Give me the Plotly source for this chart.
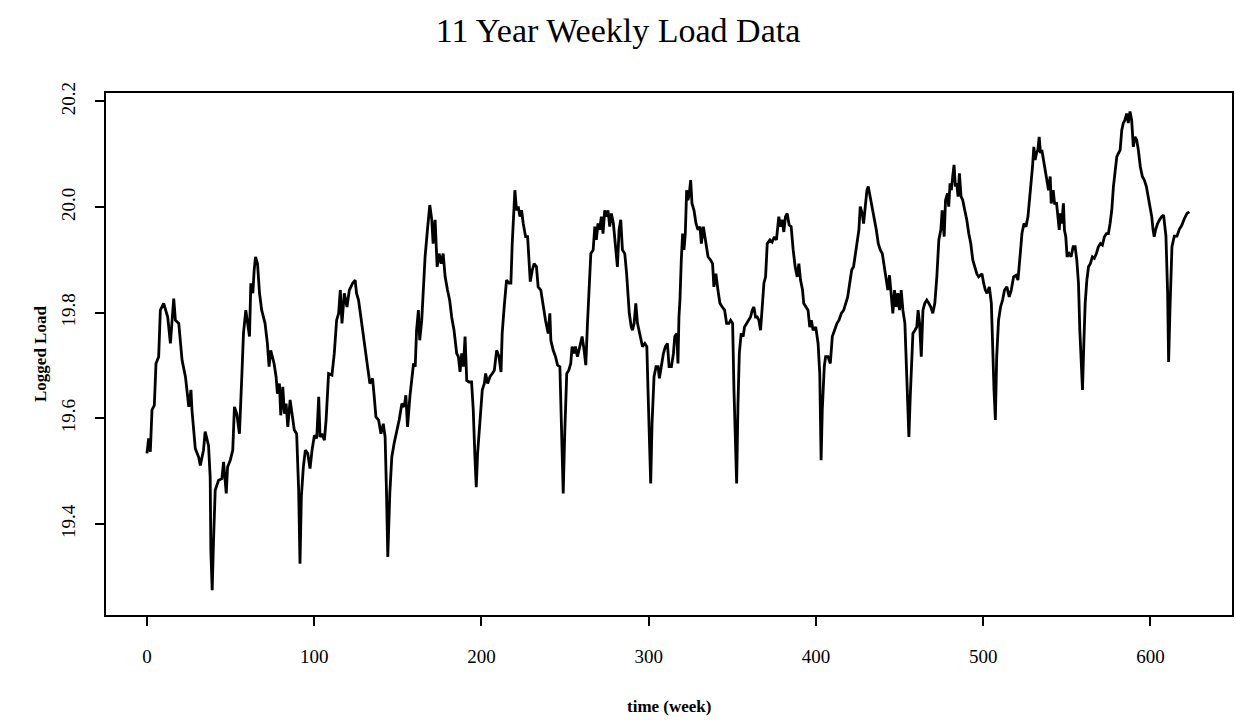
import plotly.graph_objects as go

# ---- data (week, logged load) ----
weeks = [
    0.0, 1.0, 2.0, 3.0, 4.4, 5.4, 7.0, 8.0, 10.0, 12.4, 14.0, 15.0, 16.0, 17.0, 19.0, 21.0, 23.0, 25.0,
    26.3, 26.9, 28.9, 30.9, 31.9, 33.8, 34.8, 36.8, 37.8, 38.2, 39.0, 39.8, 40.8, 42.8, 44.8, 45.8,
    47.4, 48.2, 49.8, 51.3, 52.3, 53.7, 55.3, 56.7, 57.7, 59.1, 60.1, 61.3, 62.1, 63.3, 64.1, 64.9,
    66.1, 67.3, 68.6, 70.6, 72.0, 73.0, 74.0, 76.0, 77.2, 78.0, 79.2, 80.0, 81.2,
    82.2, 83.2, 84.2, 85.6, 87.1, 88.1, 89.5, 90.7, 91.5, 92.3, 93.5, 94.7, 96.1, 97.5, 98.7, 100.1,
    101.5, 102.7, 103.5, 104.6, 106.1, 107.1, 108.6, 110.6, 112.0, 113.4, 114.6, 115.6, 116.6, 118.0,
    119.6, 121.0, 123.0, 124.5, 125.3, 126.5, 127.9, 129.3, 130.9, 131.9, 133.3, 134.9, 135.9, 136.9,
    138.5, 139.9, 141.3, 142.4, 143.2, 144.0, 145.2, 146.4, 147.8, 149.2, 150.8, 152.4, 153.8, 154.8,
    155.8, 157.2, 158.4, 159.4, 160.4, 161.2, 162.3, 163.1, 164.3, 165.1, 166.3, 167.7, 169.1, 170.3,
    171.1, 172.3, 173.5, 174.7, 175.9, 177.1, 178.3, 179.7, 181.0, 182.2, 183.6,
    185.2, 186.2, 187.2, 188.2, 189.2, 190.2, 191.2, 192.6, 194.1, 195.1, 196.1, 196.9, 197.7, 199.1,
    200.5, 201.7, 202.5, 203.7, 205.1, 206.5, 207.7, 209.1, 210.5, 211.7, 212.4, 213.6, 215.0, 216.4,
    217.6, 218.4, 219.2, 220.0, 221.0, 222.0, 223.0, 224.0, 225.0, 226.4, 227.6, 228.4, 229.2, 230.4,
    231.5, 232.9, 233.9, 235.5, 236.9, 238.3, 239.9, 240.9, 241.5, 242.9, 244.3, 245.5, 246.9, 247.9,
    248.9, 249.8, 251.0, 252.2, 253.4, 254.2, 255.4, 256.2, 257.4, 258.8, 260.2, 261.4, 262.4, 263.4,
    264.4, 265.4, 266.8, 267.8, 268.7, 269.7, 270.7, 271.7, 272.7, 273.7, 274.7, 275.7, 276.7, 277.7,
    278.9, 280.1, 281.3, 282.3, 283.3, 284.3, 285.7, 286.8, 287.6, 288.4, 289.6,
    290.3, 291.3, 292.3, 293.3, 294.9, 296.3, 297.7, 298.9, 299.6, 300.4, 301.2, 302.0, 303.2, 304.4,
    305.6, 306.4, 307.6, 308.8, 310.0, 311.2, 312.2, 313.6, 314.8, 315.6, 316.8, 317.5, 318.1, 318.7,
    319.5, 320.3, 321.1, 321.9, 322.7, 323.5, 324.3, 325.1, 325.9, 327.1, 328.3, 329.5, 330.7, 331.5,
    332.7, 334.1, 335.5, 337.0, 338.2, 339.0, 340.2, 341.4, 342.6, 344.0, 345.4, 346.6, 348.0, 349.0,
    350.2, 351.0, 351.8, 352.6, 353.4, 354.2, 355.3, 356.5, 357.3, 358.5, 359.9, 360.9, 361.9, 362.9,
    363.9, 364.9, 365.9, 366.9, 367.9, 368.9, 369.9, 370.9, 372.5, 373.8, 375.2, 376.4, 377.8, 378.8,
    379.8, 380.8, 381.8, 382.8, 384.0, 385.2, 386.4, 387.6, 388.8, 389.8, 390.8, 392.0, 392.7, 393.9,
    395.3, 396.3, 397.3, 398.3, 399.9, 401.3, 402.3, 403.1, 403.8, 405.0, 405.8, 407.2, 408.6, 409.8,
    411.2, 412.6, 413.8, 415.2, 416.6, 417.8, 419.0, 420.2, 421.4, 422.5, 423.7, 424.5, 425.7, 426.5,
    427.7, 428.5, 429.3, 430.5, 431.3, 432.5, 433.7, 434.9, 436.1, 437.3, 438.5, 439.7, 440.9, 442.1,
    443.0, 444.0, 445.0, 446.0, 447.0, 448.0, 449.0, 450.0, 451.0, 452.0, 453.2, 454.0, 454.8, 455.6,
    456.4, 457.2, 458.0, 459.2, 460.3, 461.1, 462.0, 463.0, 464.0, 465.1, 466.3, 467.5, 468.7, 469.9,
    471.1, 472.3, 473.5, 474.7, 475.5, 476.7, 477.5, 478.7, 479.4, 480.2, 481.0, 481.8, 482.6, 483.4,
    484.2, 485.0, 485.8, 486.8, 487.8, 489.0, 490.2, 491.4, 492.6, 493.8, 495.0, 496.2, 497.3, 498.5,
    499.3, 500.3, 501.3, 502.3, 503.7, 504.9, 505.7, 506.5, 507.3, 508.1, 509.2, 510.4, 511.6, 512.8,
    514.2, 515.6, 516.8, 518.2, 519.6, 520.8, 522.2, 523.2, 524.4, 525.6, 526.8, 527.7, 528.7, 529.5,
    530.3, 531.1, 531.9, 532.7, 533.5, 534.3, 535.1, 536.1, 537.1, 538.1, 539.1, 540.1, 540.7, 541.9,
    542.7, 543.9, 544.7, 545.5, 546.2, 547.0, 548.0, 548.6, 549.4, 550.2, 551.4, 552.6, 553.8, 555.0,
    556.0, 557.0, 557.8, 558.6, 559.4, 560.2, 561.0, 562.0, 563.0, 564.1, 565.3, 566.5, 567.7, 568.9,
    570.1, 571.3, 572.5, 573.7, 574.9, 575.9, 576.9, 577.9, 578.9, 579.9, 580.9, 581.9, 582.9, 583.8,
    584.8, 585.8, 586.8, 587.8, 588.8, 589.8, 590.8, 591.8, 592.8, 594.0, 595.2, 596.4, 597.6, 598.8,
    600.0, 600.8, 601.6, 602.3, 603.1, 604.3, 605.5, 606.7, 607.9, 609.3, 610.3, 610.9, 611.7, 612.9,
    614.3, 615.9, 617.3, 618.7, 620.3, 621.9, 623.3,
]

logged_load = [
    19.534, 19.562, 19.537, 19.616, 19.625, 19.704, 19.717, 19.805, 19.818, 19.792, 19.742, 19.792, 19.827, 19.786, 19.780, 19.710, 19.679, 19.622,
    19.654, 19.616, 19.543, 19.527, 19.511, 19.540, 19.575, 19.549, 19.489, 19.350, 19.275, 19.369, 19.464, 19.483, 19.486, 19.518,
    19.458, 19.508, 19.521, 19.540, 19.622, 19.609, 19.571, 19.679, 19.761, 19.805, 19.780, 19.755, 19.856, 19.837, 19.881, 19.906,
    19.893, 19.837, 19.805, 19.780, 19.742, 19.698, 19.729, 19.704, 19.679, 19.647, 19.666, 19.606, 19.660,
    19.609, 19.628, 19.584, 19.635, 19.603, 19.578, 19.571, 19.464, 19.325, 19.451, 19.508, 19.540, 19.534, 19.505, 19.540, 19.568,
    19.562, 19.641, 19.565, 19.571, 19.559, 19.597, 19.685, 19.682, 19.723, 19.786, 19.799, 19.843, 19.780, 19.837,
    19.811, 19.843, 19.856, 19.862, 19.837, 19.824, 19.792, 19.755, 19.723, 19.698, 19.666, 19.676, 19.641, 19.603,
    19.597, 19.571, 19.590, 19.565, 19.464, 19.338, 19.458, 19.527, 19.553, 19.571, 19.597, 19.628, 19.622, 19.644,
    19.584, 19.641, 19.679, 19.704, 19.698, 19.767, 19.805, 19.748, 19.786, 19.843, 19.906, 19.957, 20.004, 19.976,
    19.931, 19.976, 19.887, 19.912, 19.893, 19.912, 19.868, 19.843, 19.824, 19.792, 19.767,
    19.723, 19.717, 19.688, 19.723, 19.698, 19.755, 19.672, 19.669, 19.669, 19.616, 19.527, 19.470, 19.534, 19.603,
    19.654, 19.666, 19.685, 19.666, 19.679, 19.685, 19.691, 19.729, 19.717, 19.688, 19.761, 19.811, 19.862, 19.856,
    19.856, 19.931, 19.982, 20.032, 19.994, 20.001, 19.982, 19.994, 19.969, 19.944, 19.944, 19.893, 19.859, 19.881,
    19.893, 19.887, 19.849, 19.843, 19.811, 19.786, 19.761, 19.799, 19.748, 19.729, 19.717, 19.701, 19.698, 19.578,
    19.458, 19.571, 19.685, 19.691, 19.704, 19.736, 19.723, 19.736, 19.717, 19.736, 19.755, 19.729, 19.701, 19.780,
    19.837, 19.912, 19.919, 19.963, 19.938, 19.969, 19.957, 19.982, 19.950, 19.994, 19.982, 19.994, 19.963, 19.988,
    19.969, 19.919, 19.887, 19.957, 19.976, 19.919, 19.912, 19.874, 19.830, 19.799, 19.773,
    19.767, 19.780, 19.818, 19.780, 19.755, 19.736, 19.742, 19.736, 19.654, 19.553, 19.477, 19.590, 19.679, 19.698,
    19.698, 19.676, 19.704, 19.723, 19.736, 19.742, 19.698, 19.698, 19.723, 19.755, 19.761, 19.704, 19.792, 19.824,
    19.900, 19.950, 19.919, 19.950, 20.032, 20.013, 20.026, 20.051, 20.007, 19.994, 19.969, 19.957, 19.963, 19.931,
    19.963, 19.931, 19.906, 19.900, 19.893, 19.849, 19.874, 19.843, 19.818, 19.811, 19.805, 19.780, 19.780, 19.786,
    19.780, 19.654, 19.553, 19.477, 19.628, 19.723, 19.761, 19.755, 19.773, 19.780, 19.786, 19.792, 19.805, 19.811,
    19.792, 19.792, 19.786, 19.767, 19.811, 19.856, 19.868, 19.931, 19.938, 19.934, 19.944, 19.938, 19.982, 19.963,
    19.976, 19.953, 19.982, 19.988, 19.966, 19.963, 19.919, 19.887, 19.868, 19.893, 19.862, 19.843, 19.818, 19.811,
    19.805, 19.773, 19.786, 19.767, 19.773, 19.742, 19.685, 19.521, 19.616, 19.698, 19.717, 19.717, 19.704, 19.755,
    19.767, 19.780, 19.786, 19.799, 19.805, 19.818, 19.830, 19.856, 19.881, 19.887, 19.912, 19.931, 19.957, 20.001,
    19.988, 19.969, 20.001, 20.032, 20.039, 20.020, 20.001, 19.982, 19.957, 19.931, 19.919, 19.912, 19.887, 19.862,
    19.843, 19.871, 19.830, 19.799, 19.843, 19.811, 19.837, 19.805, 19.843, 19.805, 19.780, 19.704, 19.616, 19.565,
    19.641, 19.723, 19.761, 19.767, 19.773, 19.805, 19.780, 19.717, 19.805, 19.818, 19.824, 19.818, 19.811, 19.799,
    19.818, 19.868, 19.938, 19.957, 19.994, 19.944, 20.013, 20.026, 20.001, 20.045, 20.032, 20.058, 20.080, 20.039,
    20.045, 20.020, 20.064, 20.020, 20.013, 19.994, 19.976, 19.950, 19.931, 19.900, 19.887, 19.874, 19.868, 19.871,
    19.874, 19.856, 19.843, 19.837, 19.849, 19.818, 19.717, 19.654, 19.597, 19.717, 19.786, 19.811, 19.824, 19.843,
    19.849, 19.830, 19.843, 19.868, 19.871, 19.862, 19.912, 19.950, 19.969, 19.963, 19.982, 20.013, 20.039, 20.076,
    20.114, 20.089, 20.102, 20.108, 20.133, 20.102, 20.108, 20.089, 20.070, 20.051, 20.032, 20.058, 20.007, 20.032,
    20.007, 20.007, 19.982, 19.957, 19.988, 19.969, 20.007, 19.957, 19.944, 19.906, 19.912, 19.906, 19.925, 19.925,
    19.900, 19.856, 19.767, 19.704, 19.654, 19.742, 19.818, 19.862, 19.887, 19.893, 19.906, 19.903, 19.912, 19.925,
    19.931, 19.928, 19.944, 19.950, 19.950, 19.969, 19.994, 20.039, 20.070, 20.095, 20.102, 20.108, 20.146, 20.159,
    20.165, 20.177, 20.159, 20.181, 20.165, 20.114, 20.133, 20.127, 20.108, 20.076, 20.058, 20.051, 20.039, 20.020,
    20.001, 19.982, 19.957, 19.944, 19.957, 19.969, 19.976, 19.982, 19.985, 19.945, 19.839, 19.707, 19.806, 19.925,
    19.945, 19.945, 19.958, 19.965, 19.978, 19.988, 19.991,
]

x_ticks = [0, 100, 200, 300, 400, 500, 600]
y_ticks = [19.4, 19.6, 19.8, 20.0, 20.2]
y_tick_labels = ["19.4", "19.6", "19.8", "20.0", "20.2"]

SERIF = "Liberation Serif, Times New Roman, serif"

fig = go.Figure()
fig.add_trace(go.Scatter(
    x=weeks, y=logged_load, mode="lines",
    line=dict(color="black", width=2.8),
    showlegend=False, hoverinfo="skip",
))

fig.update_layout(
    width=1236, height=721,
    margin=dict(l=106, r=2, t=93, b=106),
    paper_bgcolor="white", plot_bgcolor="white",
    font=dict(family=SERIF, color="black"),
    title=dict(
        text="11 Year Weekly Load Data",
        font=dict(family=SERIF, size=34, color="black"),
        xref="container", x=0.5, xanchor="center",
        yref="container", y=0.958, yanchor="middle",
    ),
    xaxis=dict(
        range=[-24.5, 648.8], tickvals=x_ticks, ticktext=[str(v) for v in x_ticks],
        showgrid=False, zeroline=False,
        showline=True, linecolor="black", linewidth=2, mirror=True,
        ticks="outside", ticklen=9, tickwidth=1.6, tickcolor="black",
        tickfont=dict(family=SERIF, size=19, color="black"),
        ticklabelstandoff=14,
    ),
    yaxis=dict(
        range=[19.228, 20.216], tickvals=y_ticks, ticktext=y_tick_labels,
        showgrid=False, zeroline=False,
        showline=True, linecolor="black", linewidth=2, mirror=True,
        ticks="outside", ticklen=9, tickwidth=1.6, tickcolor="black",
        tickangle=-90,
        tickfont=dict(family=SERIF, size=19, color="black"),
        ticklabelstandoff=12,
    ),
    annotations=[
        dict(text="<b>time (week)</b>", xref="paper", yref="paper", x=0.5, y=0,
             yshift=-91, showarrow=False, xanchor="center", yanchor="middle",
             font=dict(family=SERIF, size=17, color="black")),
        dict(text="<b>Logged Load</b>", xref="paper", yref="paper", x=0, y=0.5,
             xshift=-66, showarrow=False, textangle=-90, xanchor="center", yanchor="middle",
             font=dict(family=SERIF, size=17, color="black")),
    ],
)

fig.write_html("out.html")
